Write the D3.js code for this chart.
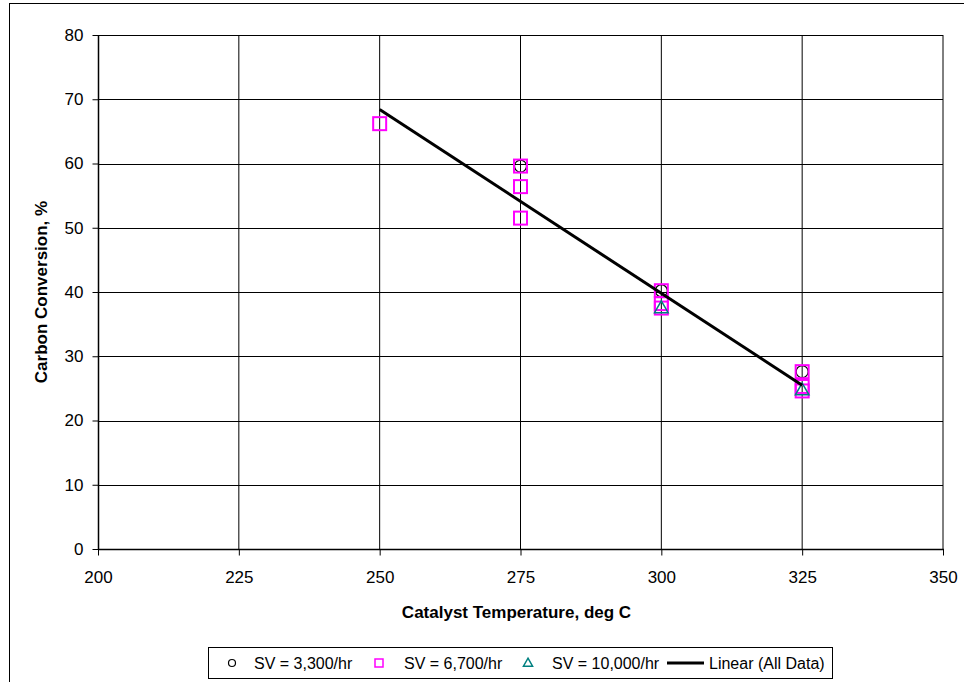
<!DOCTYPE html>
<html><head><meta charset="utf-8">
<script src="https://cdn.jsdelivr.net/npm/d3@7"></script>
<style>
html,body{margin:0;padding:0;background:#fff;}
svg{display:block;font-family:"Liberation Sans",Arial,sans-serif;}
</style></head>
<body>
<svg id="chart" width="964" height="682"></svg>
<script>
// ---- data ----
const xTicks = [200, 225, 250, 275, 300, 325, 350];
const yTicks = [0, 10, 20, 30, 40, 50, 60, 70, 80];
const sv3300X = [275, 300, 325];
const sv3300Y = [59.6, 40.2, 27.6];
const sv6700X = [250, 275, 275, 275, 300, 300, 300, 325, 325, 325];
const sv6700Y = [66.2, 59.6, 56.4, 51.5, 40.2, 38.2, 37.5, 27.6, 25.3, 24.6];
const sv10000X = [300, 325];
const sv10000Y = [37.4, 24.6];
const trendX = [250, 325];
const trendY = [68.4, 25.5];
const legendLabels = ["SV = 3,300/hr", "SV = 6,700/hr", "SV = 10,000/hr", "Linear (All Data)"];
const xTitle = "Catalyst Temperature, deg C";
const yTitle = "Carbon Conversion, %";

const svg = d3.select("#chart");
const L = 98, R = 943, T = 35, B = 549;
const x = d3.scaleLinear().domain([200, 350]).range([L, R]);
const y = d3.scaleLinear().domain([0, 80]).range([B, T]);

// outer border
svg.append("rect").attr("x", 9.5).attr("y", 3.5).attr("width", 1000).attr("height", 1000)
  .attr("fill", "none").attr("stroke", "#000").attr("stroke-width", 1);

// gridlines
svg.append("g").selectAll("line").data(yTicks.slice(1)).join("line")
  .attr("x1", L).attr("x2", R).attr("y1", d => Math.round(y(d)) + 0.5).attr("y2", d => Math.round(y(d)) + 0.5)
  .attr("stroke", "#000").attr("stroke-width", 1);
svg.append("g").selectAll("line").data(xTicks.slice(1)).join("line")
  .attr("y1", T).attr("y2", B).attr("x1", d => x(d)).attr("x2", d => x(d))
  .attr("stroke", "#000").attr("stroke-width", 1);

// axes
const yAxis = d3.axisLeft(y).tickValues(yTicks).tickSize(6).tickPadding(9).tickFormat(d3.format("d"));
const gy = svg.append("g").attr("transform", `translate(${L + 0.5},0)`).call(yAxis);
const xAxis = d3.axisBottom(x).tickValues(xTicks).tickSize(6).tickPadding(15).tickFormat(d3.format("d"));
const gx = svg.append("g").attr("transform", `translate(0,${B + 0.5})`).call(xAxis);
[gy, gx].forEach(g => {
  g.select(".domain").remove();
  g.selectAll(".tick line").attr("stroke", "#000");
  g.selectAll(".tick text").attr("fill", "#000").style("font-size", "17px")
    .style("font-family", "'Liberation Sans', Arial, sans-serif");
});
// plot frame lines (left and bottom axes)
svg.append("line").attr("x1", L + 0.5).attr("x2", L + 0.5).attr("y1", T).attr("y2", B + 1)
  .attr("stroke", "#000").attr("stroke-width", 1.5);
svg.append("line").attr("x1", L).attr("x2", R + 1).attr("y1", B + 0.5).attr("y2", B + 0.5)
  .attr("stroke", "#000").attr("stroke-width", 1.5);

// titles
svg.append("text").attr("x", (L + R) / 2 - 4).attr("y", 618).attr("text-anchor", "middle")
  .style("font-size", "17px").style("font-weight", "bold").text(xTitle);
svg.append("text").attr("transform", `translate(47,${(T + B) / 2}) rotate(-90)`).attr("text-anchor", "middle")
  .style("font-size", "17px").style("font-weight", "bold").text(yTitle);

// markers
const MAG = "#FF00FF", TEAL = "#008080";
svg.append("g").selectAll("circle").data(sv3300X.map((d, i) => [d, sv3300Y[i]])).join("circle")
  .attr("cx", d => x(d[0])).attr("cy", d => y(d[1])).attr("r", 6)
  .attr("fill", "none").attr("stroke", "#000").attr("stroke-width", 1.2);
svg.append("g").selectAll("rect").data(sv6700X.map((d, i) => [d, sv6700Y[i]])).join("rect")
  .attr("x", d => x(d[0]) - 6.5).attr("y", d => y(d[1]) - 6.5).attr("width", 13).attr("height", 13)
  .attr("fill", "none").attr("stroke", MAG).attr("stroke-width", 2);
svg.append("g").selectAll("path").data(sv10000X.map((d, i) => [d, sv10000Y[i]])).join("path")
  .attr("transform", d => `translate(${x(d[0])},${y(d[1])})`)
  .attr("d", d3.symbol().type(d3.symbolTriangle).size(80)())
  .attr("fill", "none").attr("stroke", TEAL).attr("stroke-width", 1.5);

// trendline
svg.append("path").datum(trendX.map((d, i) => [d, trendY[i]]))
  .attr("d", d3.line().x(d => x(d[0])).y(d => y(d[1])))
  .attr("fill", "none").attr("stroke", "#000").attr("stroke-width", 3);

// legend
const lg = svg.append("g");
lg.append("rect").attr("x", 208.5).attr("y", 647.5).attr("width", 624).attr("height", 31)
  .attr("fill", "#fff").attr("stroke", "#000").attr("stroke-width", 1);
const ly = 663;
const itemX = [232, 379, 528, 667];
const textX = [254, 404, 552, 709];
lg.append("circle").attr("cx", itemX[0]).attr("cy", ly).attr("r", 3.5)
  .attr("fill", "none").attr("stroke", "#000").attr("stroke-width", 1.2);
lg.append("rect").attr("x", itemX[1] - 4).attr("y", ly - 4).attr("width", 8).attr("height", 8)
  .attr("fill", "none").attr("stroke", MAG).attr("stroke-width", 1.5);
lg.append("path").attr("transform", `translate(${itemX[2]},${ly + 0.5})`)
  .attr("d", d3.symbol().type(d3.symbolTriangle).size(36)())
  .attr("fill", "none").attr("stroke", TEAL).attr("stroke-width", 1.5);
lg.append("line").attr("x1", itemX[3]).attr("x2", itemX[3] + 37).attr("y1", ly).attr("y2", ly)
  .attr("stroke", "#000").attr("stroke-width", 3);
lg.selectAll("text.lt").data(legendLabels).join("text").attr("class", "lt")
  .attr("x", (d, i) => textX[i]).attr("y", ly + 6).style("font-size", "16px").text(d => d);
</script>
</body></html>
